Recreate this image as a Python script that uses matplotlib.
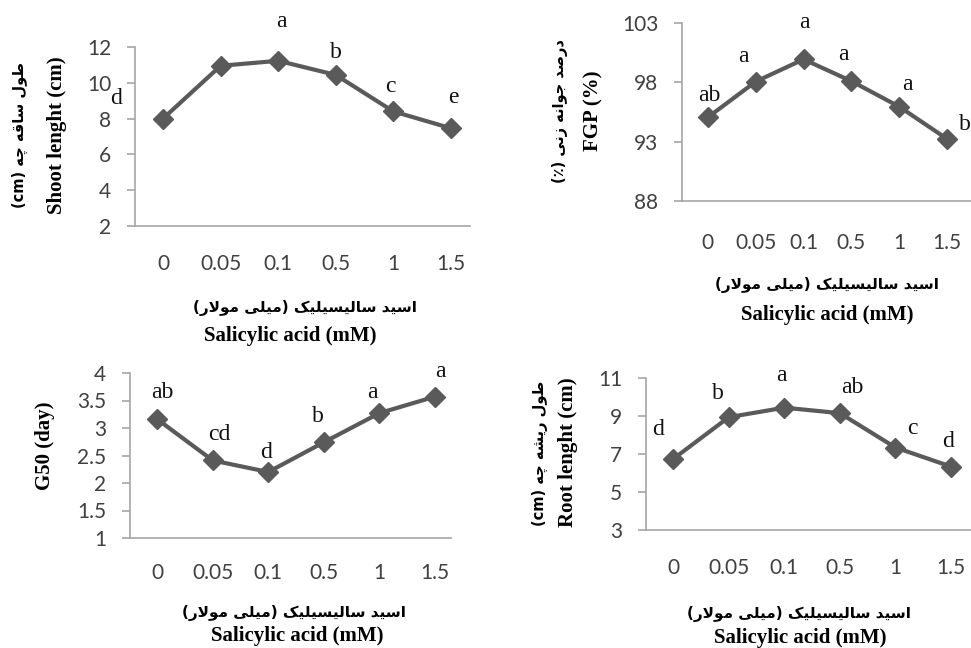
import matplotlib
matplotlib.use("Agg")
import matplotlib.pyplot as plt
from matplotlib.ticker import FormatStrFormatter

W, H = 971, 648

# data
conc = ["0", "0.05", "0.1", "0.5", "1", "1.5"]
shoot = [8.0, 10.95, 11.23, 10.44, 8.4, 7.46]
shoot_let = ["d", "", "a", "b", "c", "e"]
fgp = [95.05, 98.06, 99.94, 98.1, 95.95, 93.23]
fgp_let = ["ab", "a", "a", "a", "a", "b"]
g50 = [3.16, 2.41, 2.2, 2.74, 3.27, 3.57]
g50_let = ["ab", "cd", "d", "b", "a", "a"]
root = [6.74, 8.93, 9.43, 9.14, 7.34, 6.34]
root_let = ["d", "b", "a", "ab", "c", "d"]

# minimal Persian shaping (presentation forms, visual order)
DUAL = {
    "س": (0xFEB1, 0xFEB2, 0xFEB3, 0xFEB4), "ش": (0xFEB5, 0xFEB6, 0xFEB7, 0xFEB8),
    "ص": (0xFEB9, 0xFEBA, 0xFEBB, 0xFEBC), "ط": (0xFEC1, 0xFEC2, 0xFEC3, 0xFEC4),
    "ق": (0xFED5, 0xFED6, 0xFED7, 0xFED8), "ل": (0xFEDD, 0xFEDE, 0xFEDF, 0xFEE0),
    "م": (0xFEE1, 0xFEE2, 0xFEE3, 0xFEE4), "ن": (0xFEE5, 0xFEE6, 0xFEE7, 0xFEE8),
    "ه": (0xFEE9, 0xFEEA, 0xFEEB, 0xFEEC), "ج": (0xFE9D, 0xFE9E, 0xFE9F, 0xFEA0),
    "ی": (0xFBFC, 0xFBFD, 0xFBFE, 0xFBFF), "ک": (0xFB8E, 0xFB8F, 0xFB90, 0xFB91),
    "چ": (0xFB7A, 0xFB7B, 0xFB7C, 0xFB7D),
}
RIGHT = {"ا": (0xFE8D, 0xFE8E), "د": (0xFEA9, 0xFEAA), "ر": (0xFEAD, 0xFEAE),
         "ز": (0xFEAF, 0xFEB0), "و": (0xFEED, 0xFEEE)}


def rtl(txt):
    out = []
    prev = False
    i = 0
    while i < len(txt):
        c = txt[i]
        nxt = txt[i + 1] if i + 1 < len(txt) else ""
        if c == "ل" and nxt == "ا":
            out.append(chr(0xFEFC if prev else 0xFEFB))
            prev = False
            i += 2
            continue
        if c in DUAL:
            nj = nxt in DUAL or nxt in RIGHT
            k = {(False, False): 0, (True, False): 1, (False, True): 2, (True, True): 3}[(prev, nj)]
            out.append(chr(DUAL[c][k]))
            prev = True
        elif c in RIGHT:
            out.append(chr(RIGHT[c][1 if prev else 0]))
            prev = False
        else:
            out.append(c)
            prev = False
        i += 1
    s = "".join(reversed(out))
    return s.replace("(", "\0").replace(")", "(").replace("\0", ")")


fa_x = rtl("اسید سالیسیلیک (میلی مولار)")
en_x = "Salicylic acid (mM)"

line_c = "#5a5a5a"
spine_c = "#a6a6a6"
tick_font = "Lato"
serif = "Liberation Serif"
fa_font = ["DejaVu Sans"]

fig = plt.figure(figsize=(W / 100, H / 100), dpi=100)


def fx(x):
    return x / W


def fy(y):
    return 1 - y / H


def panel(l, t, r, b, vals, lets, offs, ylim, yticks, xlim, xpad):
    ax = fig.add_axes([fx(l), fy(b), fx(r - l), (b - t) / H])
    xs = range(len(conc))
    ax.plot(xs, vals, color=line_c, lw=3, marker="D", ms=10, mec=line_c, mfc=line_c,
            clip_on=False)
    ax.set_ylim(*ylim)
    ax.set_yticks(yticks)
    ax.yaxis.set_major_formatter(FormatStrFormatter("%g"))
    ax.set_xlim(*xlim)
    ax.set_xticks(list(xs))
    ax.set_xticklabels(conc)
    for s in ["top", "right"]:
        ax.spines[s].set_visible(False)
    for s in ["left", "bottom"]:
        ax.spines[s].set_color(spine_c)
        ax.spines[s].set_linewidth(1.2)
    ax.tick_params(axis="y", direction="out", length=6, width=1.2, color=spine_c,
                   pad=11, labelsize=15, labelcolor="#404040")
    ax.tick_params(axis="x", length=0, pad=xpad, labelsize=15, labelcolor="#404040")
    for lab in ax.get_xticklabels() + ax.get_yticklabels():
        lab.set_fontfamily(tick_font)
    for x, v, s, o in zip(xs, vals, lets, offs):
        ax.annotate(s, (x, v), xytext=o, textcoords="offset pixels", ha="center",
                    va="center", fontsize=17, family=serif, color="#111111")
    return ax


panel(135, 47, 470, 226, shoot, shoot_let,
      [(-47, 20), (0, 0), (3, 39), (0, 22), (-3, 25), (2, 31)],
      (2, 12), [2, 4, 6, 8, 10, 12], (-0.486, 5.33), 20)
panel(682, 23, 971, 201, fgp, fgp_let,
      [(1, 22), (-12, 25), (1, 37), (-8, 27), (8, 22), (18, 14)],
      (88, 103), [88, 93, 98, 103], (-0.54, 5.5), 23)
panel(130, 373, 451, 538, g50, g50_let,
      [(5, 27), (7, 26), (-2, 19), (-6, 26), (-7, 21), (5, 25)],
      (1, 4), [1, 1.5, 2, 2.5, 3, 3.5, 4], (-0.49, 5.29), 18)
panel(646, 377.7, 971, 530.3, root, root_let,
      [(-15, 29), (-11, 24), (-3, 32), (12, 26), (17, 19), (-3, 25)],
      (3, 11), [3, 5, 7, 9, 11], (-0.49, 5.36), 20)

# y labels
fig.text(fx(57), fy(135), "Shoot lenght (cm)", rotation=90, ha="center", va="center",
         family=serif, weight="bold", fontsize=15)
fig.text(fx(20), fy(135), "(cm) " + rtl("طول ساقه چه"), rotation=90, ha="center",
         va="center", family=fa_font, weight="bold", fontsize=10.5)
fig.text(fx(593), fy(111), "FGP (%)", rotation=90, ha="center", va="center",
         family=serif, weight="bold", fontsize=15)
fig.text(fx(560), fy(111), "(٪) " + rtl("درصد جوانه زنی"), rotation=90, ha="center",
         va="center", family=fa_font, weight="bold", fontsize=10.5)
fig.text(fx(45), fy(446), "G50 (day)", rotation=90, ha="center", va="center",
         family=serif, weight="bold", fontsize=15)
fig.text(fx(568), fy(452), "Root lenght (cm)", rotation=90, ha="center", va="center",
         family=serif, weight="bold", fontsize=15)
fig.text(fx(540), fy(453), "(cm) " + rtl("طول ریشه چه"), rotation=90, ha="center",
         va="center", family=fa_font, weight="bold", fontsize=10.5)

# x labels
for (px, py), (ex, ey) in [((305, 308), (290, 336)), ((827, 285), (827, 315)),
                           ((294, 613), (297, 636)), ((799, 614), (800, 638))]:
    fig.text(fx(px), fy(py), fa_x, ha="center", va="center", family=fa_font,
             weight="bold", fontsize=11)
    fig.text(fx(ex), fy(ey), en_x, ha="center", va="center", family=serif,
             weight="bold", fontsize=15)

fig.savefig("out.png", dpi=100)
